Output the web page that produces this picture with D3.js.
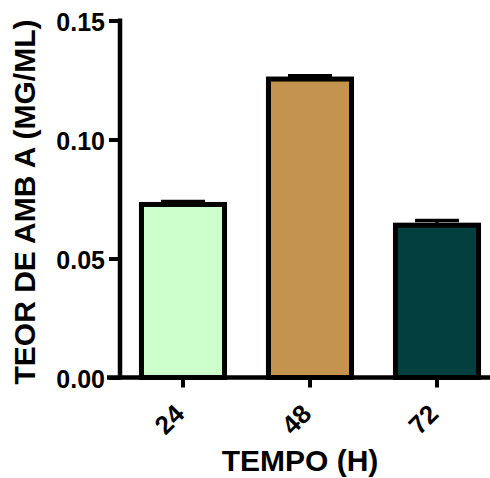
<!DOCTYPE html>
<html>
<head>
<meta charset="utf-8">
<script src="https://cdn.jsdelivr.net/npm/d3@7"></script>
<style>
  body { margin: 0; background: #fff; }
  text { font-family: "Liberation Sans", Arial, sans-serif; font-weight: bold; }
</style>
</head>
<body>
<div id="chart"></div>
<script>
const categories = ["24", "48", "72"];
const values = [0.0727, 0.1254, 0.0640];
const errors = [0.0012, 0.0014, 0.0020];
const colors = ["#CCFFCC", "#C4944F", "#033F3F"];
const yTicks = [0.00, 0.05, 0.10, 0.15];

const W = 490, H = 478;

const svg = d3.select("#chart")
  .append("svg")
  .attr("width", W)
  .attr("height", H);

const x = d3.scaleBand()
  .domain(categories)
  .range([119.5, 500.5])
  .paddingInner(0.346)
  .paddingOuter(0.173);

const y = d3.scaleLinear()
  .domain([0, 0.15])
  .range([377.5, 20.5]);

// error bars (upper only)
const err = svg.append("g");
categories.forEach((c, i) => {
  const cx = x(c) + x.bandwidth() / 2;
  err.append("line")
    .attr("x1", cx).attr("x2", cx)
    .attr("y1", y(values[i])).attr("y2", y(values[i] + errors[i]))
    .attr("stroke", "#000").attr("stroke-width", 3.5);
  err.append("line")
    .attr("x1", cx - 22).attr("x2", cx + 22)
    .attr("y1", y(values[i] + errors[i])).attr("y2", y(values[i] + errors[i]))
    .attr("stroke", "#000").attr("stroke-width", 3.5);
});

svg.append("g")
  .selectAll("rect")
  .data(values)
  .enter()
  .append("rect")
  .attr("x", (d, i) => x(categories[i]))
  .attr("y", d => y(d))
  .attr("width", x.bandwidth())
  .attr("height", d => y(0) - y(d))
  .attr("fill", (d, i) => colors[i])
  .attr("stroke", "#000")
  .attr("stroke-width", 5);

// y axis
const yAxis = svg.append("g")
  .attr("transform", "translate(120,0)")
  .call(d3.axisLeft(y).tickValues(yTicks).tickFormat(d3.format(".2f")).tickSize(11).tickPadding(4));
yAxis.select(".domain").remove();
yAxis.selectAll(".tick line").attr("stroke", "#000").attr("stroke-width", 4);
yAxis.selectAll(".tick text")
  .attr("fill", "#000")
  .style("font-size", "25px")
  .attr("dy", "0.4em");
svg.append("line")
  .attr("x1", 120).attr("x2", 120)
  .attr("y1", y(0.15) - 2).attr("y2", y(0) + 2)
  .attr("stroke", "#000").attr("stroke-width", 4.5);

// x axis
const xAxis = svg.append("g")
  .attr("transform", `translate(0,${y(0)})`)
  .call(d3.axisBottom(x).tickSize(10).tickPadding(0));
xAxis.select(".domain").remove();
xAxis.selectAll(".tick line").attr("stroke", "#000").attr("stroke-width", 4);
xAxis.selectAll(".tick text")
  .attr("fill", "#000")
  .style("font-size", "26px")
  .attr("text-anchor", "end")
  .attr("y", 0)
  .attr("dy", 0)
  .attr("transform", "translate(3,38) rotate(-45)");
svg.append("line")
  .attr("x1", 107).attr("x2", 490)
  .attr("y1", y(0)).attr("y2", y(0))
  .attr("stroke", "#000").attr("stroke-width", 4.5);

// axis titles
svg.append("text")
  .attr("x", 300)
  .attr("y", 471)
  .attr("text-anchor", "middle")
  .style("font-size", "30px")
  .text("TEMPO (H)");

svg.append("text")
  .attr("transform", "translate(35,202) rotate(-90)")
  .attr("text-anchor", "middle")
  .style("font-size", "30px")
  .text("TEOR DE AMB A (MG/ML)");
</script>
</body>
</html>
